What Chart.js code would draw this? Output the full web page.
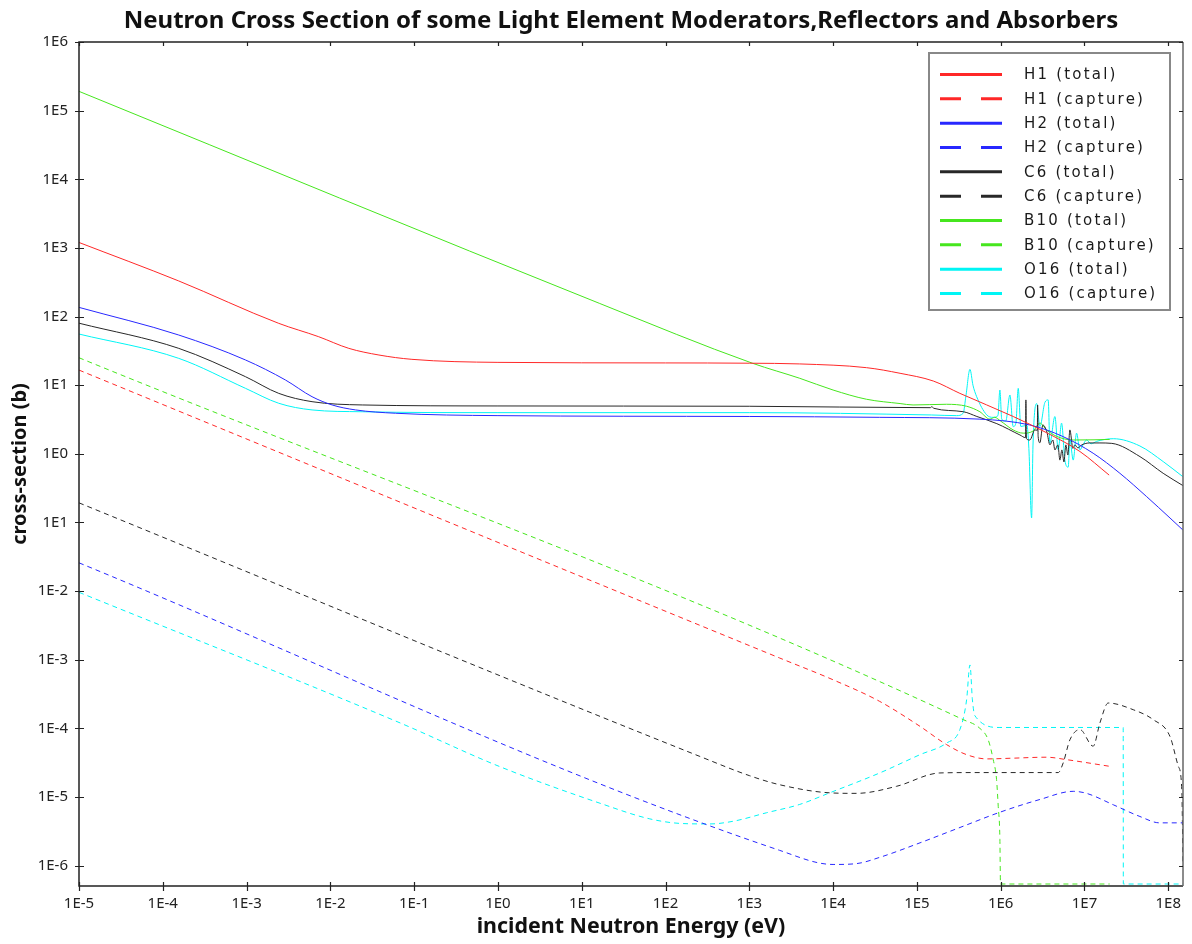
<!DOCTYPE html>
<html>
<head>
<meta charset="utf-8">
<script src="https://cdn.jsdelivr.net/npm/chart.js@4.4.1/dist/chart.umd.min.js"></script>
<style>
  body { margin: 0; background: #fff; }
  #chart { display: block; }
</style>
</head>
<body>
<canvas id="chart" width="1192" height="944"></canvas>
<script>
// energies in eV, cross sections in barns
const xTicks = [1e-5, 1e-4, 1e-3, 1e-2, 1e-1, 1e0, 1e1, 1e2, 1e3, 1e4, 1e5, 1e6, 1e7, 1e8];
const xTickLabels = ["1E-5", "1E-4", "1E-3", "1E-2", "1E-1", "1E0", "1E1", "1E2", "1E3", "1E4", "1E5", "1E6", "1E7", "1E8"];
const yTicks = [1e-6, 1e-5, 1e-4, 1e-3, 1e-2, 1e-1, 1e0, 1e1, 1e2, 1e3, 1e4, 1e5, 1e6];
const yTickLabels = ["1E-6", "1E-5", "1E-4", "1E-3", "1E-2", "1E1", "1E0", "1E1", "1E2", "1E3", "1E4", "1E5", "1E6"];

const h1Total = [[1e-5, 1200], [1.55e-4, 330], [2.42e-3, 79.6], [7.26e-3, 50.8], [1.66e-2, 34.4], [3.8e-2, 27.5],
  [9.4e-2, 23.8], [1, 21.5], [100, 21.1], [1e3, 20.9], [4e3, 20.4], [2.5e4, 18], [6.3e4, 14.9], [1.57e5, 11.5],
  [3.26e5, 7.6], [1.41e6, 3.5], [3.53e6, 2.03], [8.83e6, 1.08], [1.97e7, 0.49]];
const h1Capture = [[1e-5, 16.6], [2.3e3, 1.06e-3], [1e4, 5.1e-4], [3.6e4, 2.47e-4], [1.09e5, 1.07e-4], [2.26e5, 5.8e-5],
  [3.92e5, 4.14e-5], [6.8e5, 3.59e-5], [1.41e6, 3.68e-5], [3.53e6, 3.8e-5], [6.12e6, 3.5e-5], [2e7, 2.8e-5]];
const h2Total = [[1e-5, 136], [1.55e-4, 53.8], [9.7e-4, 23.3], [2.91e-3, 11.9], [6.04e-3, 6.8], [1.05e-2, 5.15],
  [2e-2, 4.36], [5.98e-2, 3.9], [1, 3.6], [1e3, 3.5], [3.6e4, 3.4], [5.65e5, 3.2], [2.23e6, 2.63], [5.57e6, 1.78],
  [1.27e7, 1.02], [2.65e7, 0.52], [5.52e7, 0.238], [1.05e8, 0.116], [1.49e8, 0.078]];
const h2Capture = [[1e-5, 0.0258], [2.3e3, 1.67e-6], [1e4, 1.04e-6], [1.9e4, 1.07e-6], [3.6e4, 1.32e-6], [1.09e5, 2.15e-6],
  [3.57e5, 3.75e-6], [9.8e5, 6e-6], [2.94e6, 9.2e-6], [7.34e6, 1.21e-5], [1.06e7, 1.13e-5], [2.21e7, 7.7e-6],
  [4.59e7, 5.2e-6], [7.9e7, 4.2e-6], [1.5e8, 4.2e-6]];
const c6Total = [[1e-5, 80], [1.55e-4, 34.4], [9.7e-4, 13.3], [2.42e-3, 7.6], [6.04e-3, 5.75], [2.4e-2, 5.15], [1, 4.98],
  [1e3, 4.93], [1.45e5, 4.7], [1.5e5, 4.85], [1.6e5, 4.6], [3.6e5, 4.1], [5.2e5, 3.5], [9e5, 2.75], [1.7e6, 1.88],
  [1.98e6, 1.72], [2.0e6, 6.1], [2.03e6, 1.66], [2.23e6, 1.59], [2.56e6, 2.23], [2.74e6, 2.2], [2.76e6, 5.15],
  [2.8e6, 1.8], [2.94e6, 1.45], [3.19e6, 2.63], [3.56e6, 2.08], [3.87e6, 1.35], [4.2e6, 1.59], [4.44e6, 1.14],
  [4.82e6, 1.35], [5.09e6, 0.81], [5.38e6, 1.14], [5.69e6, 0.76], [6e6, 1.35], [6.34e6, 0.96], [6.7e6, 2.23],
  [7.28e6, 1.2], [7.69e6, 1.35], [8.36e6, 1.22], [9.31e6, 1.35], [1.16e7, 1.44], [1.53e7, 1.44], [2.12e7, 1.42],
  [4.6e7, 0.91], [8.7e7, 0.52], [1.5e8, 0.344]];
const c6Capture = [[1e-5, 0.193], [2.57e2, 3.9e-5], [1e3, 2.05e-5], [2.3e3, 1.51e-5], [9.1e3, 1.15e-5], [1.9e4, 1.13e-5],
  [5.7e4, 1.43e-5], [1.88e5, 2.24e-5], [5.65e5, 2.27e-5], [4.86e6, 2.27e-5], [5.57e6, 3.13e-5], [6.7e6, 6.8e-5],
  [8.83e6, 9.6e-5], [1.27e7, 5.5e-5], [1.53e7, 1.2e-4], [1.92e7, 2.34e-4], [3.82e7, 1.87e-4], [6.62e7, 1.34e-4],
  [1.05e8, 7.6e-5], [1.32e8, 2.8e-5], [1.45e8, 1.3e-5], [1.5e8, 1e-6]];
const b10Total = [[1e-5, 1.91e5], [16.4, 155], [1.1e3, 20.8], [4e3, 12.6], [1e4, 8.5], [2.5e4, 6.24], [6.3e4, 5.4],
  [9e4, 5.15], [2.26e5, 5.27], [3.92e5, 4.93], [5.65e5, 4.1], [7.43e5, 3.2], [8.5e5, 3.4], [1.0e6, 3.0], [1.41e6, 2.23],
  [1.86e6, 2.0], [2.44e6, 2.15], [2.94e6, 2.8], [3.53e6, 2.23], [4.65e6, 1.8], [7.34e6, 1.59], [1.3e7, 1.6], [2e7, 1.62]];
const b10Capture = [[1e-5, 25.1], [3.57e5, 1.34e-4], [5.65e5, 1.0e-4], [7.1e5, 6.8e-5], [8.15e5, 3.5e-5], [8.93e5, 1.8e-5],
  [9.35e5, 7.3e-6], [9.79e5, 2.4e-6], [9.95e5, 5.4e-7], [2e7, 5.4e-7]];
const o16Total = [[1e-5, 55.6], [1.55e-4, 24.6], [9.7e-4, 9.0], [2.42e-3, 5.45], [6.04e-3, 4.36], [2.4e-2, 4.1], [1, 3.98],
  [1e3, 3.98], [1.5e5, 3.68], [2.98e5, 3.6], [3.57e5, 3.9], [3.85e5, 7], [4.3e5, 17], [4.67e5, 10], [5.17e5, 6.8],
  [6.8e5, 3.7], [8.08e5, 3.4], [9.27e5, 3.6], [9.79e5, 8.5], [1.03e6, 3.2], [1.15e6, 3.0], [1.29e6, 7.2], [1.41e6, 2.49],
  [1.52e6, 2.8], [1.62e6, 9.0], [1.74e6, 2.5], [2.06e6, 2.6], [2.17e6, 1.2], [2.34e6, 0.116], [2.43e6, 1.3],
  [2.69e6, 5.4], [2.94e6, 2.5], [3.37e6, 5.6], [3.69e6, 6.1], [3.87e6, 1.44], [4.44e6, 3.5], [4.86e6, 1.14],
  [5.33e6, 2.8], [5.84e6, 0.81], [6.4e6, 0.64], [6.7e6, 1.6], [7.34e6, 0.81], [8.05e6, 2.0], [8.83e6, 1.14],
  [9.6e6, 1.35], [1.06e7, 1.59], [1.2e7, 1.4], [1.4e7, 1.52], [2.21e7, 1.66], [4.59e7, 1.3], [8.71e7, 0.77], [1.49e8, 0.466]];
const o16Capture = [[1e-5, 9.6e-3], [6.8e-2, 1.2e-4], [1.03, 2.8e-5], [16.1, 8.2e-6], [65, 4.8e-6], [162, 4.1e-6],
  [338, 4.05e-6], [641, 4.43e-6], [1.61e3, 5.9e-6], [4e3, 7.8e-6], [9.1e3, 1.15e-5], [3.6e4, 2.24e-5], [1.09e5, 4.14e-5],
  [2.26e5, 6.1e-5], [3.26e5, 9.6e-5], [3.92e5, 2.6e-4], [4.3e5, 8.4e-4], [4.6e5, 2.6e-4], [4.92e5, 1.53e-4],
  [9.8e5, 1.03e-4], [2.9e7, 1.03e-4], [2.91e7, 5.4e-7], [1.5e8, 5.4e-7]];

const RED = "rgb(255, 40, 40)";
const BLUE = "rgb(40, 40, 255)";
const BLACK = "rgb(40, 40, 40)";
const GREEN = "rgb(70, 230, 30)";
const CYAN = "rgb(0, 245, 245)";

function series(label, points, color, dashed) {
  return {
    label: label,
    data: points.map(p => ({ x: p[0], y: p[1] })),
    borderColor: color,
    backgroundColor: color,
    borderWidth: 1,
    borderDash: dashed ? [5, 4] : [],
    pointRadius: 0,
    fill: false,
    cubicInterpolationMode: "monotone"
  };
}

// box, tick marks, title and legend drawn by hand
const decorations = {
  id: "decorations",
  afterDatasetsDraw(chart) {
    const { ctx, chartArea: a, scales } = chart;
    ctx.save();
    ctx.lineWidth = 1.5;
    ctx.strokeStyle = "#222";
    ctx.beginPath();
    ctx.moveTo(a.right, a.top);
    ctx.lineTo(a.left, a.top);
    ctx.lineTo(a.left, a.bottom);
    ctx.lineTo(a.right, a.bottom);
    ctx.stroke();
    ctx.strokeStyle = "#666";
    ctx.beginPath();
    ctx.moveTo(a.right, a.top);
    ctx.lineTo(a.right, a.bottom);
    ctx.stroke();

    ctx.strokeStyle = "#222";
    ctx.lineWidth = 1.2;
    ctx.beginPath();
    scales.x.ticks.forEach(t => {
      const px = Math.round(scales.x.getPixelForValue(t.value)) + 0.5;
      ctx.moveTo(px, a.bottom - 4);
      ctx.lineTo(px, a.bottom + 5);
      ctx.moveTo(px, a.top);
      ctx.lineTo(px, a.top + 4);
    });
    scales.y.ticks.forEach(t => {
      const py = Math.round(scales.y.getPixelForValue(t.value)) + 0.5;
      ctx.moveTo(a.left - 4, py);
      ctx.lineTo(a.left + 5, py);
      ctx.moveTo(a.right - 4, py);
      ctx.lineTo(a.right, py);
    });
    ctx.stroke();

    // title
    ctx.fillStyle = "#111";
    ctx.font = "bold 24px 'Noto Sans'";
    ctx.textAlign = "center";
    ctx.textBaseline = "middle";
    ctx.fillText("Neutron Cross Section of some Light Element Moderators,Reflectors and Absorbers",
      (a.left + a.right) / 2 - 10, 21);

    // legend
    const bw = 241, bh = 257;
    const bx = a.right - 13 - bw, by = a.top + 11;
    ctx.fillStyle = "#fff";
    ctx.fillRect(bx, by, bw, bh);
    ctx.strokeStyle = "#888";
    ctx.lineWidth = 2;
    ctx.strokeRect(bx, by, bw, bh);
    ctx.font = "15px 'DejaVu Sans'";
    ctx.textAlign = "left";
    ctx.textBaseline = "middle";
    if ("letterSpacing" in ctx) ctx.letterSpacing = "2.2px";
    chart.data.datasets.forEach((ds, i) => {
      const ry = by + 21.5 + i * 24.33;
      ctx.strokeStyle = ds.borderColor;
      ctx.lineWidth = 3;
      ctx.setLineDash(ds.borderDash.length ? [21, 20] : []);
      ctx.beginPath();
      ctx.moveTo(bx + 11, ry);
      ctx.lineTo(bx + 73, ry);
      ctx.stroke();
      ctx.setLineDash([]);
      ctx.fillStyle = "#1a1a1a";
      ctx.fillText(ds.label, bx + 95, ry + 1);
    });
    ctx.restore();
  }
};

new Chart(document.getElementById("chart"), {
  type: "line",
  data: {
    datasets: [
      series("H1 (total)", h1Total, RED, false),
      series("H1 (capture)", h1Capture, RED, true),
      series("H2 (total)", h2Total, BLUE, false),
      series("H2 (capture)", h2Capture, BLUE, true),
      series("C6 (total)", c6Total, BLACK, false),
      series("C6 (capture)", c6Capture, BLACK, true),
      series("B10 (total)", b10Total, GREEN, false),
      series("B10 (capture)", b10Capture, GREEN, true),
      series("O16 (total)", o16Total, CYAN, false),
      series("O16 (capture)", o16Capture, CYAN, true)
    ]
  },
  options: {
    responsive: false,
    animation: false,
    devicePixelRatio: 1,
    layout: { padding: { top: 42, right: 9, bottom: 0, left: 0 } },
    plugins: {
      legend: { display: false },
      title: { display: false },
      tooltip: { enabled: false }
    },
    scales: {
      x: {
        type: "logarithmic",
        min: 1e-5,
        max: 1.5e8,
        afterBuildTicks: s => { s.ticks = xTicks.map(v => ({ value: v })); },
        afterFit: s => { s.height = 58; },
        grid: { display: false, drawTicks: false },
        border: { display: false },
        ticks: {
          autoSkip: false,
          maxRotation: 0,
          padding: 9,
          color: "#222",
          font: { family: "Noto Sans", size: 15 },
          callback: (v, i) => xTickLabels[i]
        },
        title: {
          display: true,
          text: "incident Neutron Energy (eV)",
          color: "#111",
          font: { family: "Noto Sans", size: 21.4, weight: "bold" },
          padding: { top: 0, bottom: 4 }
        }
      },
      y: {
        type: "logarithmic",
        min: 5.05e-7,
        max: 1e6,
        afterBuildTicks: s => { s.ticks = yTicks.map(v => ({ value: v })); },
        afterFit: s => { s.width = 79; },
        grid: { display: false, drawTicks: false },
        border: { display: false },
        ticks: {
          autoSkip: false,
          padding: 11,
          color: "#222",
          font: { family: "Noto Sans", size: 15 },
          callback: (v, i) => yTickLabels[i]
        },
        title: {
          display: true,
          text: "cross-section (b)",
          color: "#111",
          font: { family: "Noto Sans", size: 20, weight: "bold" },
          padding: { top: 8, bottom: 0 }
        }
      }
    }
  },
  plugins: [decorations]
});
</script>
</body>
</html>
